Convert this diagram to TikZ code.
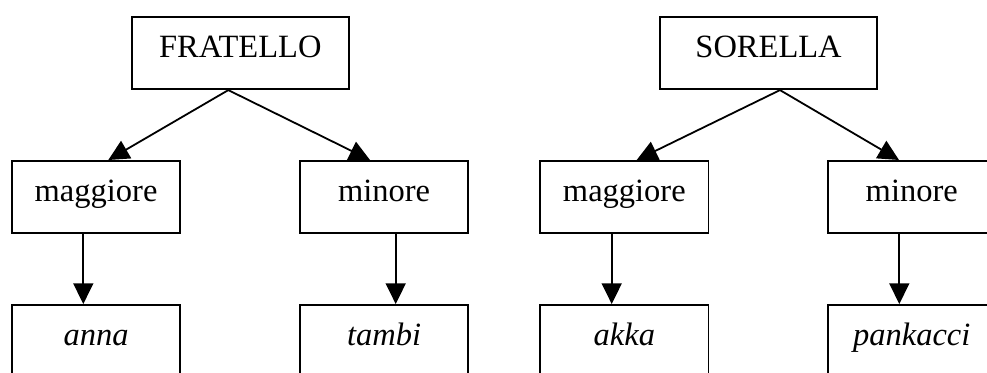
\documentclass[tikz,border=0pt]{standalone}
\usepackage{fontspec}
\setmainfont{Liberation Serif}
\usetikzlibrary{arrows.meta,calc}

\tikzset{
  box/.style={draw, line width=1.8pt, inner sep=0pt, anchor=north west,
    text width=#1, align=center, text height=41pt, text depth=31.3pt,
    font=\fontsize{32.5}{38}\selectfont},
  headbox/.style={box=216.7pt},
  kinbox/.style={box=168.3pt},
  namebox/.style={box=168.3pt, font=\fontsize{32.5}{38}\selectfont\itshape},
  arr/.style={line width=1.8pt, -{Triangle[length=20.7pt,width=20pt]}}
}

\begin{document}
\begin{tikzpicture}[x=1pt, y=-1pt]
  \useasboundingbox (0,0) rectangle (987,372);
  \clip (0,0) rectangle (987,372);

  % brother tree
  \node[headbox] (fr) at (131,16) {FRATELLO};
  \node[kinbox]  (fmag) at (11,160) {maggiore};
  \node[kinbox]  (fmin) at (299,160) {minore};
  \node[namebox] (anna) at (11,304) {anna};
  \node[namebox] (tambi) at (299,304) {tambi};

  % sister tree
  \node[headbox] (so) at (659.3,16) {SORELLA};
  \node[kinbox]  (smag) at (539.3,160) {maggiore};
  \node[kinbox]  (smin) at (826.7,160) {minore};
  \node[namebox] (akka) at (539.3,304) {akka};
  \node[namebox] (pank) at (826.7,304) {pankacci};

  % connectors
  \draw[arr] ($(fr.south west)+(97.3,0)$) -- ($(fmag.north west)+(97.3,0)$);
  \draw[arr] ($(fr.south west)+(97.3,0)$) -- ($(fmin.north west)+(71,0)$);
  \draw[arr] ($(fmag.south west)+(72.3,0)$) -- ($(anna.north west)+(72.3,0)$);
  \draw[arr] ($(fmin.south west)+(96.7,0)$) -- ($(tambi.north west)+(96.7,0)$);

  \draw[arr] ($(so.south west)+(120.7,0)$) -- ($(smag.north west)+(97.4,0)$);
  \draw[arr] ($(so.south west)+(120.7,0)$) -- ($(smin.north west)+(72.3,0)$);
  \draw[arr] ($(smag.south west)+(72.4,0)$) -- ($(akka.north west)+(72.4,0)$);
  \draw[arr] ($(smin.south west)+(72.6,0)$) -- ($(pank.north west)+(72.6,0)$);
\end{tikzpicture}
\end{document}
